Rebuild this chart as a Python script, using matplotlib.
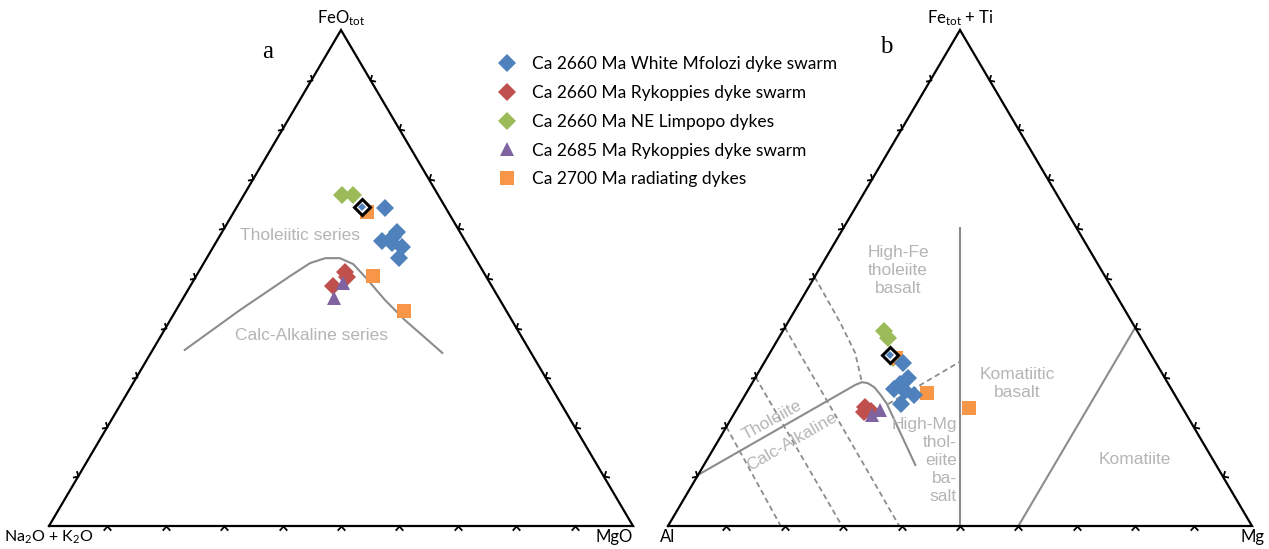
import matplotlib
matplotlib.use('Agg')
import matplotlib.pyplot as plt
import numpy as np
from matplotlib.lines import Line2D
from matplotlib.markers import MarkerStyle
from matplotlib.path import Path
from matplotlib.transforms import Affine2D

plt.rcParams['font.family'] = ['Lato', 'DejaVu Sans']
plt.rcParams['mathtext.default'] = 'regular'

# ternary data in %, panel a = (Na2O+K2O, FeOtot, MgO)
a_mfolozi = [(10.5, 64.1, 25.4), (10.7, 59.3, 30.0), (11.9, 58.3, 29.8), (14.2, 57.5, 28.3),
             (12.7, 57.1, 30.2), (11.5, 56.2, 32.3), (13.1, 54.0, 32.9)]
a_mfolozi_avg = [(14.3, 64.3, 21.4)]
a_ryk2660 = [(23.7, 51.2, 25.1), (24.0, 50.2, 25.9), (27.2, 48.4, 24.4)]
a_limpopo = [(16.4, 66.7, 16.9), (14.6, 66.7, 18.7), (14.1, 63.7, 22.2)]
a_ryk2685 = [(25.2, 49.0, 25.8), (28.2, 46.0, 25.8)]
a_radiating = [(13.9, 63.3, 22.8), (19.3, 50.4, 30.3), (18.0, 44.2, 39.9)]

# Irvine & Baragar boundary
a_boundary = [(59.0, 35.5, 5.5), (45.6, 43.5, 10.9), (33.5, 50.4, 16.1), (28.8, 53.0, 18.2),
              (25.7, 54.0, 20.3), (23.2, 54.0, 22.8), (21.5, 52.8, 25.7), (20.7, 50.0, 29.3),
              (19.7, 45.6, 34.7), (18.3, 41.5, 40.2), (16.6, 37.9, 45.4), (15.2, 34.9, 49.9)]

# panel b = (Al, Fe_tot+Ti, Mg)
b_mfolozi = [(43.3, 32.9, 23.8), (44.0, 29.8, 26.2), (46.0, 28.6, 25.4), (47.5, 27.6, 24.9),
             (45.8, 27.2, 27.0), (44.7, 26.4, 28.9), (47.8, 24.6, 27.6)]
b_mfolozi_avg = [(44.8, 34.5, 20.7)]
b_ryk2660 = [(54.3, 24.0, 21.7), (53.6, 23.2, 23.2), (55.0, 23.0, 22.0)]
b_limpopo = [(43.4, 39.3, 17.3), (43.3, 37.9, 18.8), (44.5, 33.9, 21.6)]
b_ryk2685 = [(53.9, 22.4, 23.7), (52.0, 23.4, 24.6)]
b_radiating = [(44.0, 33.9, 22.1), (40.5, 25.8, 29.7), (36.6, 23.8, 39.6)]

# Jensen cation plot field boundaries
b_th_ca = [(89.7, 10.3, 0.0), (53.8, 28.4, 17.8), (52.3, 29.0, 18.7), (51.4, 28.8, 19.8),
           (50.7, 28.0, 21.3), (50.4, 26.6, 23.0), (50.0, 24.6, 25.0), (51.5, 12.3, 36.2)]
b_basalt_line = [(50.0, 0.0, 50.0), (20.0, 60.0, 20.0)]
b_komatiite_line = [(40.0, 0.0, 60.0), (0.0, 40.0, 60.0)]
b_dashed = [
    [(80.0, 20.0, 0.0), (80.7, 0.0, 19.3)],
    [(70.0, 30.0, 0.0), (70.2, 0.0, 29.8)],
    [(60.0, 40.0, 0.0), (60.4, 0.0, 39.6)],
    [(49.8, 50.2, 0.0), (50.0, 41.1, 8.9), (50.5, 34.9, 14.6), (52.3, 29.0, 18.7)],
    [(50.0, 24.6, 25.4), (33.5, 33.1, 33.4)],
]

labels = ['Ca 2660 Ma White Mfolozi dyke swarm', 'Ca 2660 Ma Rykoppies dyke swarm',
          'Ca 2660 Ma NE Limpopo dykes', 'Ca 2685 Ma Rykoppies dyke swarm',
          'Ca 2700 Ma radiating dykes']
colors = ['#4F81BD', '#C0504D', '#9BBB59', '#8064A2', '#F79646']
markers = ['D', 'D', 'D', '^', 's']
msizes = [9.5, 9.5, 9.5, 10, 10]

FIELD = '#b5b5b5'
LINE = '#8c8c8c'


def tern(pts):
    p = np.asarray(pts, float)
    s = p.sum(axis=1)
    return (p[:, 2] + p[:, 1] / 2) / s, p[:, 1] / s


W, H = 1269, 549
fig = plt.figure(figsize=(W / 100, H / 100), dpi=100)


def make_ax(x0):
    ax = fig.add_axes([x0 / W, (H - 526) / H, 584 / W, 496 / H])
    ax.set_xlim(0, 1)
    ax.set_ylim(0, 1)
    ax.axis('off')
    ax.plot([0, 1, 0.5, 0], [0, 0, 1, 0], color='k', lw=1.6, clip_on=False,
            solid_joinstyle='miter', zorder=3)
    chev = Path([(-1, -1.1), (0, 0), (1, -1.1)], [Path.MOVETO, Path.LINETO, Path.LINETO])
    t = np.arange(1, 10) / 10
    for xs, ys, rot in [(t, 0 * t, 0), (t / 2, t, 239.5), (1 - t / 2, t, 120.5)]:
        m = MarkerStyle(chev, transform=Affine2D().rotate_deg(rot))
        ax.plot(xs, ys, ls='none', marker=m, ms=6, mfc='none', mec='k', mew=1.3,
                clip_on=False, zorder=3)
    return ax


def scatter(ax, series):
    order = [2, 4, 1, 3, 0]
    for i in order:
        x, y = tern(series[i])
        ax.plot(x, y, ls='none', marker=markers[i], ms=msizes[i], color=colors[i],
                mew=0, clip_on=False, zorder=5)


def highlight(ax, pts):
    x, y = tern(pts)
    ax.plot(x, y, ls='none', marker='D', ms=8, mfc='white', mec='k', mew=2.2, zorder=6)
    ax.plot(x, y, ls='none', marker='D', ms=4, color=colors[0], mew=0, zorder=7)


# panel a
ax1 = make_ax(49)
x, y = tern(a_boundary)
ax1.plot(x, y, color=LINE, lw=1.5, zorder=2)
scatter(ax1, [a_mfolozi, a_ryk2660, a_limpopo, a_ryk2685, a_radiating])
highlight(ax1, a_mfolozi_avg)
ax1.text(0.43, 0.585, 'Tholeiitic series', color=FIELD, fontsize=12.5,
         family='Liberation Sans', ha='center', va='center')
ax1.text(0.45, 0.385, 'Calc-Alkaline series', color=FIELD, fontsize=12.5,
         family='Liberation Sans', ha='center', va='center')
ax1.text(0.375, 0.956, 'a', fontsize=18, family='Liberation Serif', ha='center', va='center')
ax1.text(0.5, 1.024, r'FeO$_{tot}$', fontsize=12, ha='center', va='center')
ax1.text(0.0, -0.022, r'Na$_2$O + K$_2$O', fontsize=11.5, ha='center', va='center')
ax1.text(1.0, -0.022, 'MgO', fontsize=12, ha='right', va='center')

# panel b
ax2 = make_ax(668)
x, y = tern(b_th_ca)
ax2.plot(x, y, color=LINE, lw=1.5, zorder=2)
for line in [b_basalt_line, b_komatiite_line]:
    x, y = tern(line)
    ax2.plot(x, y, color=LINE, lw=1.5, zorder=2)
for line in b_dashed:
    x, y = tern(line)
    ax2.plot(x, y, color=LINE, lw=1.3, ls=(0, (3, 2)), zorder=2)
scatter(ax2, [b_mfolozi, b_ryk2660, b_limpopo, b_ryk2685, b_radiating])
highlight(ax2, b_mfolozi_avg)

fkw = dict(color=FIELD, fontsize=12.5, family='Liberation Sans', linespacing=1.25)
ax2.text(0.394, 0.516, 'High-Fe\ntholeiite\nbasalt', ha='center', va='center', **fkw)
ax2.text(0.598, 0.288, 'Komatiitic\nbasalt', ha='center', va='center', **fkw)
ax2.text(0.800, 0.135, 'Komatiite', ha='center', va='center', **fkw)
ax2.text(0.495, 0.133, 'High-Mg\nthol-\neiite\nba-\nsalt', ha='right', va='center',
         multialignment='right', **fkw)
ax2.text(0.178, 0.214, 'Tholeiite', ha='center', va='center', rotation=29,
         rotation_mode='anchor', **fkw)
ax2.text(0.212, 0.171, 'Calc-Alkaline', ha='center', va='center', rotation=30,
         rotation_mode='anchor', **fkw)
ax2.text(0.373, 0.966, 'b', fontsize=18, family='Liberation Serif', ha='center', va='center')
ax2.text(0.5, 1.024, r'Fe$_{tot}$ + Ti', fontsize=12, ha='center', va='center')
ax2.text(0.0, -0.022, 'Al', fontsize=12, ha='center', va='center')
ax2.text(1.0, -0.022, 'Mg', fontsize=12, ha='center', va='center')

handles = [Line2D([], [], ls='none', marker=markers[i], ms=msizes[i], color=colors[i],
                  mew=0) for i in range(5)]
fig.legend(handles, labels, loc='upper left', bbox_to_anchor=(498 / W, 1 - 56 / H),
           frameon=False, fontsize=12.5, handlelength=1.0, handletextpad=0.95,
           labelspacing=0.74, borderpad=0, borderaxespad=0)

fig.savefig('out.png', dpi=100)
